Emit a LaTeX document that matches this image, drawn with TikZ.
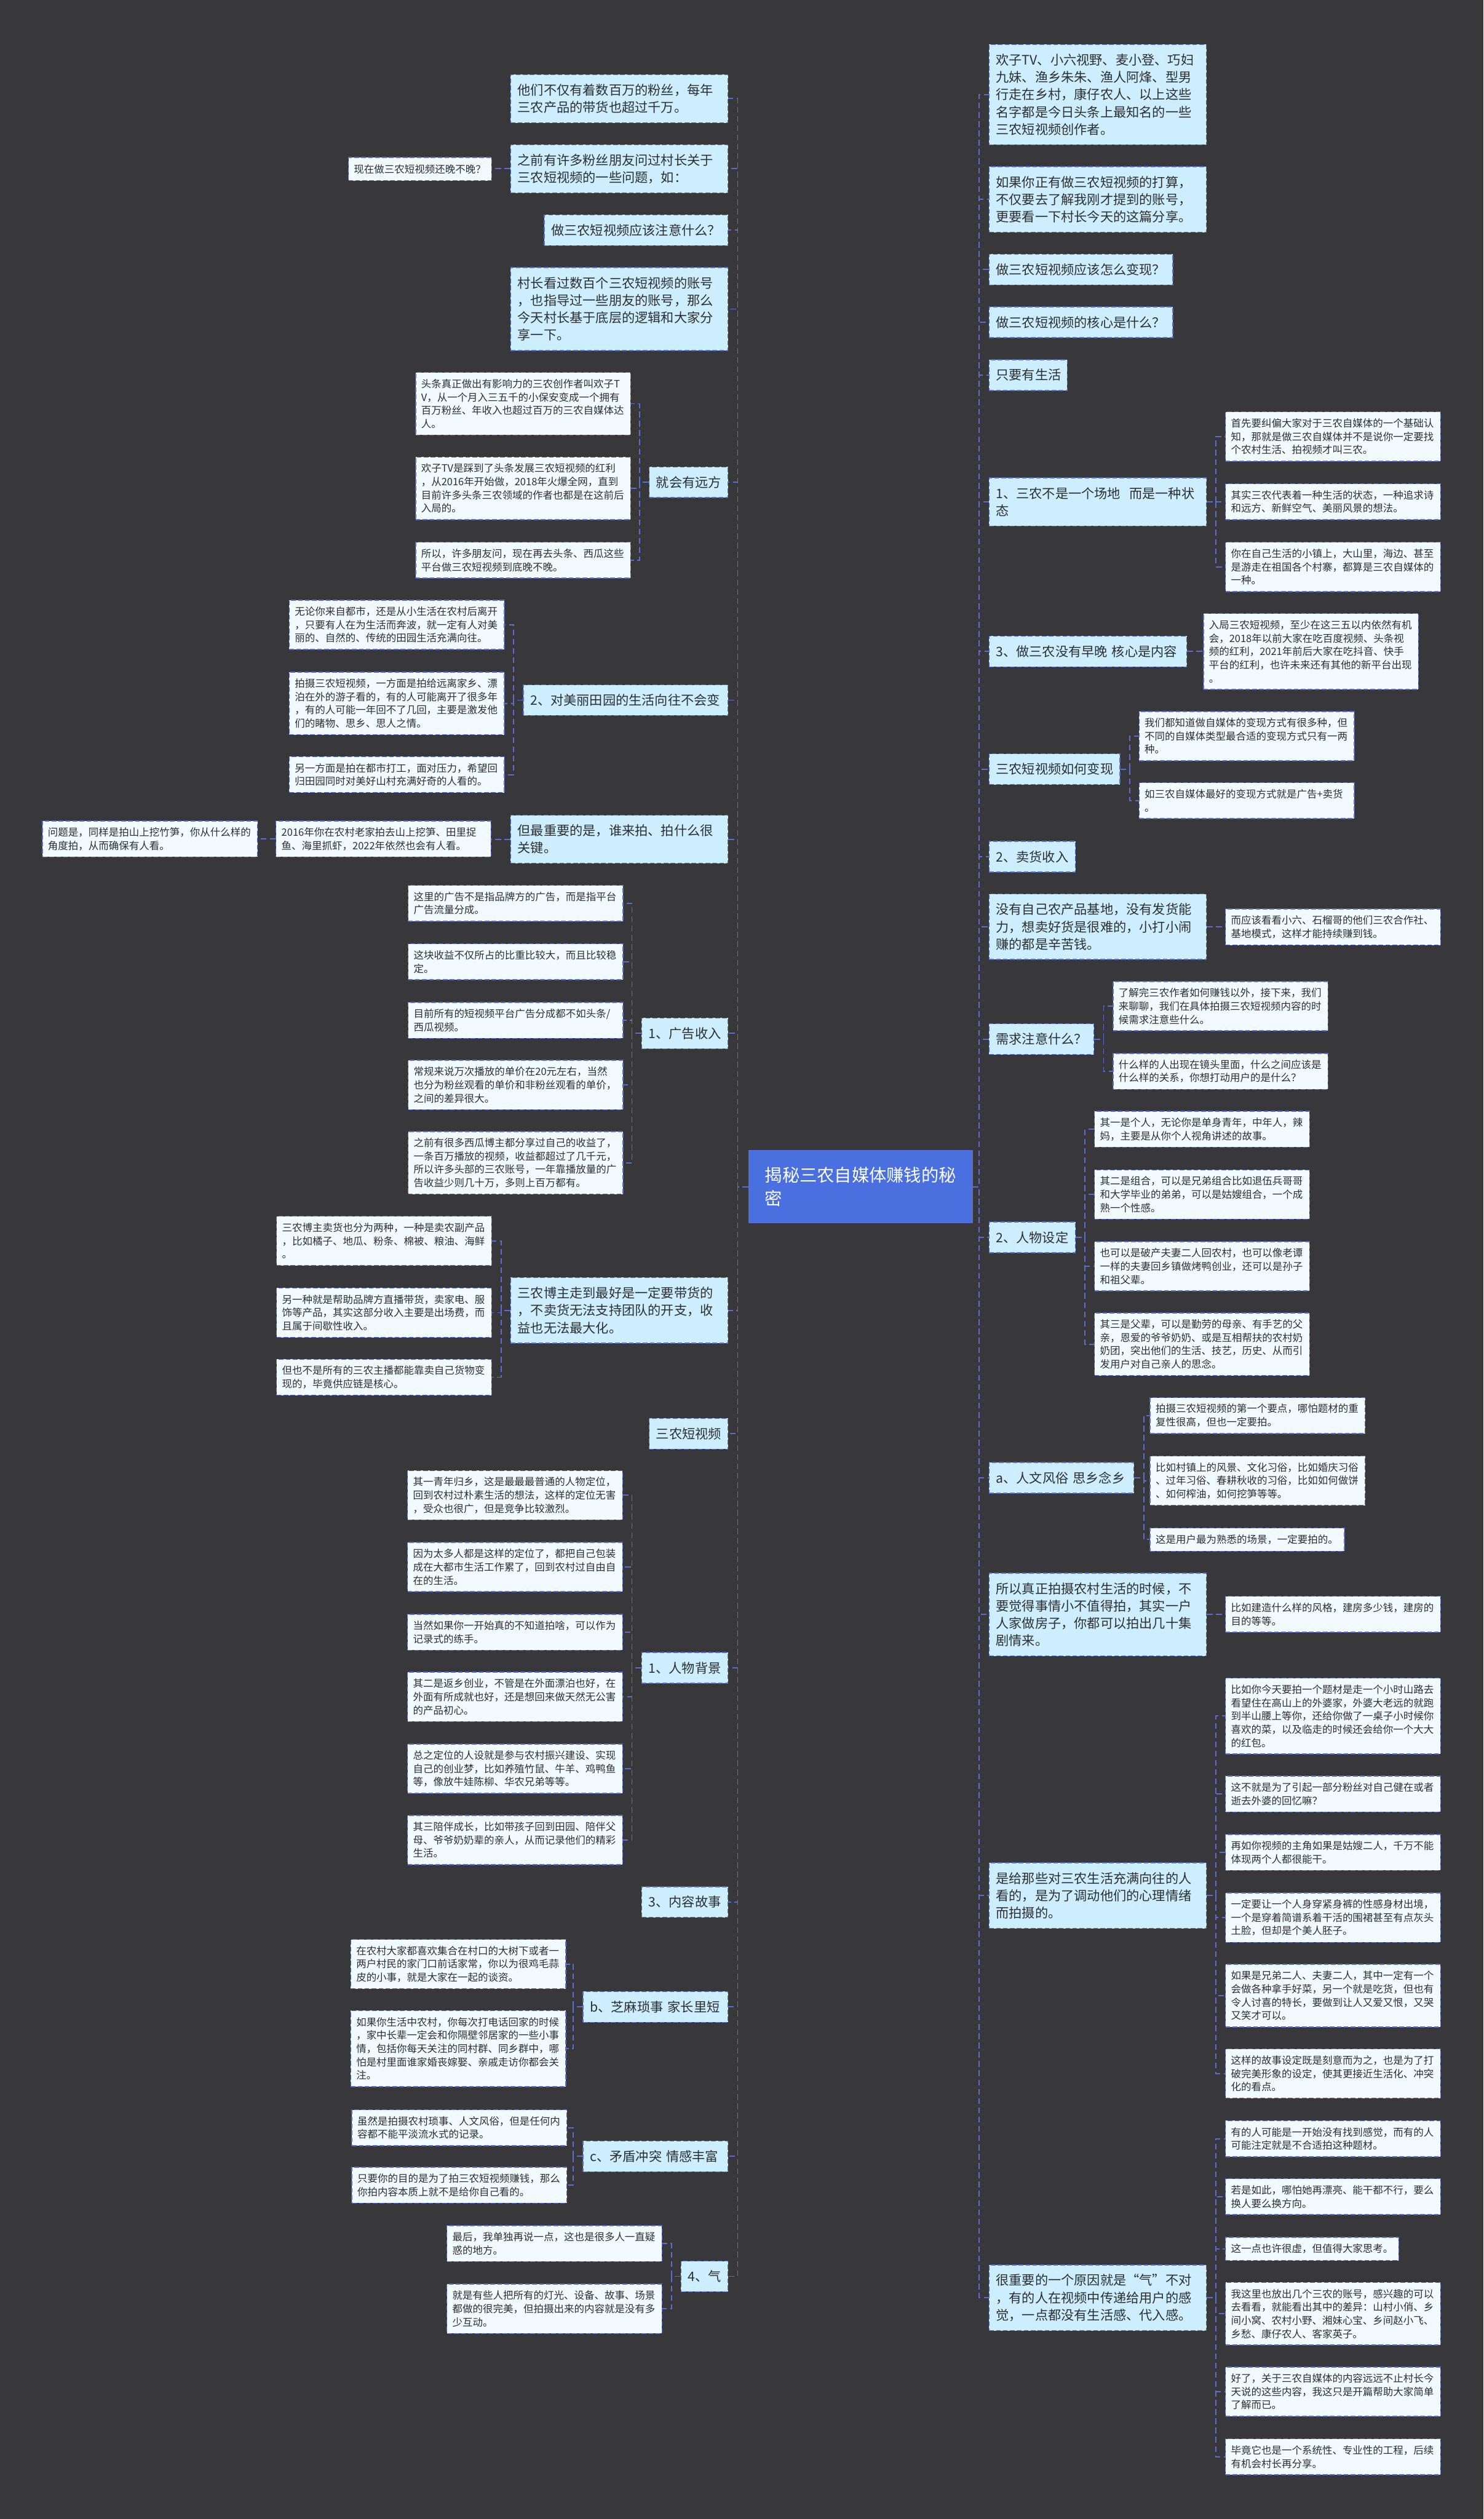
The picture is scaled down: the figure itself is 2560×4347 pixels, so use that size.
\documentclass[tikz,border=0pt]{standalone}
\usepackage{fontspec}
\newfontfamily\cjk{Noto Sans CJK SC}
\usepackage{xcolor}
\definecolor{bgdark}{HTML}{38383A}
\definecolor{linkblue}{HTML}{5A6ED2}
\definecolor{rootblue}{HTML}{4A6FDF}
\definecolor{topicfill}{HTML}{CCEEFF}
\definecolor{leaffill}{HTML}{F0FAFF}
\definecolor{textdark}{HTML}{2E2E2E}
\tikzset{
  conn/.style={draw=linkblue, line width=2pt, dash pattern=on 10pt off 6pt},
  rootbox/.style={draw=linkblue, line width=1.5pt, fill=rootblue, text=white, font=\cjk\fontsize{30}{40}\selectfont, align=left, text width=330pt, inner xsep=28pt, inner ysep=0pt, minimum height=125pt},
  topic/.style={draw=linkblue, line width=1.5pt, dash pattern=on 8pt off 4pt, fill=topicfill, text=textdark, font=\cjk\fontsize{22.5}{30}\selectfont, align=left, text width=351pt, inner xsep=12pt, inner ysep=0pt},
  leaf/.style={draw=linkblue, line width=1.5pt, dash pattern=on 8pt off 4pt, fill=leaffill, text=textdark, font=\cjk\fontsize{17.5}{23}\selectfont, align=left, text width=352pt, inner xsep=9.5pt, inner ysep=0pt}
}
\begin{document}
\begin{tikzpicture}[x=1pt,y=-1pt]
        \fill[bgdark] (0,0) rectangle (2560,4347);
        \node[rootbox] (root) at (1485,2048) {揭秘三农自媒体赚钱的秘\\密};
        \coordinate (tl) at (1273,2048);
        \coordinate (tr) at (1690,2048);

        \node[topic, anchor=north east, minimum height=83pt] (fans) at (1257,128) {他们不仅有着数百万的粉丝，每年\\三农产品的带货也超过千万。};
        \node[topic, anchor=north east, minimum height=83pt] (askvideo) at (1257,249) {之前有许多粉丝朋友问过村长关于\\三农短视频的一些问题，如：};
        \node[topic, anchor=north east, minimum height=53pt, text width=293pt] (notice) at (1257,370) {做三农短视频应该注意什么？};
        \node[topic, anchor=north east, minimum height=143pt] (logic) at (1257,461) {村长看过数百个三农短视频的账号\\，也指导过一些朋友的账号，那么\\今天村长基于底层的逻辑和大家分\\享一下。};
        \node[topic, anchor=north east, minimum height=53pt, text width=112pt] (future) at (1257,805) {就会有远方};
        \node[topic, anchor=north east, minimum height=53pt, text width=329pt] (idyll) at (1257,1181) {2、对美丽田园的生活向往不会变};
        \node[topic, anchor=north east, minimum height=83pt] (whoshoots) at (1257,1406) {但最重要的是，谁来拍、拍什么很\\关键。};
        \node[topic, anchor=north east, minimum height=53pt, text width=125pt] (adincome) at (1257,1756) {1、广告收入};
        \node[topic, anchor=north east, minimum height=113pt] (selling) at (1257,2204) {三农博主走到最好是一定要带货的\\，不卖货无法支持团队的开支，收\\益也无法最大化。};
        \node[topic, anchor=north east, minimum height=53pt, text width=112pt] (shortvid) at (1257,2447) {三农短视频};
        \node[topic, anchor=north east, minimum height=53pt, text width=125pt] (persona) at (1257,2851) {1、人物背景};
        \node[topic, anchor=north east, minimum height=53pt, text width=125pt] (story) at (1257,3255) {3、内容故事};
        \node[topic, anchor=north east, minimum height=53pt, text width=226pt] (trivia) at (1257,3436) {b、芝麻琐事~家长里短};
        \node[topic, anchor=north east, minimum height=53pt, text width=226pt] (conflict) at (1257,3694) {c、矛盾冲突~情感丰富};
        \node[topic, anchor=north east, minimum height=53pt, text width=57pt] (qi) at (1257,3901) {4、气};

        \node[leaf, anchor=north east, minimum height=40pt, text width=228pt] (latest) at (849,271) {现在做三农短视频还晚不晚？};
        \node[leaf, anchor=north east, minimum height=108pt] (future1) at (1089,642) {头条真正做出有影响力的三农创作者叫欢子T\\V，从一个月入三五千的小保安变成一个拥有\\百万粉丝、年收入也超过百万的三农自媒体达\\人。};
        \node[leaf, anchor=north east, minimum height=108pt] (future2) at (1089,788) {欢子TV是踩到了头条发展三农短视频的红利\\，从2016年开始做，2018年火爆全网，直到\\目前许多头条三农领域的作者也都是在这前后\\入局的。};
        \node[leaf, anchor=north east, minimum height=62pt] (future3) at (1089,935) {所以，许多朋友问，现在再去头条、西瓜这些\\平台做三农短视频到底晚不晚。};
        \node[leaf, anchor=north east, minimum height=85pt] (idyll1) at (871,1035) {无论你来自都市，还是从小生活在农村后离开\\，只要有人在为生活而奔波，就一定有人对美\\丽的、自然的、传统的田园生活充满向往。};
        \node[leaf, anchor=north east, minimum height=108pt] (idyll2) at (871,1159) {拍摄三农短视频，一方面是拍给远离家乡、漂\\泊在外的游子看的，有的人可能离开了很多年\\，有的人可能一年回不了几回，主要是激发他\\们的睹物、思乡、思人之情。};
        \node[leaf, anchor=north east, minimum height=62pt] (idyll3) at (871,1305) {另一方面是拍在都市打工，面对压力，希望回\\归田园同时对美好山村充满好奇的人看的。};
        \node[leaf, anchor=north east, minimum height=62pt] (who1) at (848,1416) {2016年你在农村老家拍去山上挖笋、田里捉\\鱼、海里抓虾，2022年依然也会有人看。};
        \node[leaf, anchor=north east, minimum height=62pt] (who2) at (445,1416) {问题是，同样是拍山上挖竹笋，你从什么样的\\角度拍，从而确保有人看。};
        \node[leaf, anchor=north east, minimum height=62pt] (ad1) at (1076,1527) {这里的广告不是指品牌方的广告，而是指平台\\广告流量分成。};
        \node[leaf, anchor=north east, minimum height=62pt] (ad2) at (1076,1628) {这块收益不仅所占的比重比较大，而且比较稳\\定。};
        \node[leaf, anchor=north east, minimum height=62pt] (ad3) at (1076,1729) {目前所有的短视频平台广告分成都不如头条/\\西瓜视频。};
        \node[leaf, anchor=north east, minimum height=85pt] (ad4) at (1076,1829) {常规来说万次播放的单价在20元左右，当然\\也分为粉丝观看的单价和非粉丝观看的单价，\\之间的差异很大。};
        \node[leaf, anchor=north east, minimum height=108pt] (ad5) at (1076,1952) {之前有很多西瓜博主都分享过自己的收益了，\\一条百万播放的视频，收益都超过了几千元，\\所以许多头部的三农账号，一年靠播放量的广\\告收益少则几十万，多则上百万都有。};
        \node[leaf, anchor=north east, minimum height=85pt] (sell1) at (849,2098) {三农博主卖货也分为两种，一种是卖农副产品\\，比如橘子、地瓜、粉条、棉被、粮油、海鲜\\。};
        \node[leaf, anchor=north east, minimum height=85pt] (sell2) at (849,2222) {另一种就是帮助品牌方直播带货，卖家电、服\\饰等产品，其实这部分收入主要是出场费，而\\且属于间歇性收入。};
        \node[leaf, anchor=north east, minimum height=62pt] (sell3) at (849,2345) {但也不是所有的三农主播都能靠卖自己货物变\\现的，毕竟供应链是核心。};
        \node[leaf, anchor=north east, minimum height=85pt] (pers1) at (1075,2537) {其一青年归乡，这是最最最普通的人物定位，\\回到农村过朴素生活的想法，这样的定位无害\\，受众也很广，但是竞争比较激烈。};
        \node[leaf, anchor=north east, minimum height=85pt] (pers2) at (1075,2661) {因为太多人都是这样的定位了，都把自己包装\\成在大都市生活工作累了，回到农村过自由自\\在的生活。};
        \node[leaf, anchor=north east, minimum height=62pt] (pers3) at (1075,2785) {当然如果你一开始真的不知道拍啥，可以作为\\记录式的练手。};
        \node[leaf, anchor=north east, minimum height=85pt] (pers4) at (1075,2885) {其二是返乡创业，不管是在外面漂泊也好，在\\外面有所成就也好，还是想回来做天然无公害\\的产品初心。};
        \node[leaf, anchor=north east, minimum height=85pt] (pers5) at (1075,3009) {总之定位的人设就是参与农村振兴建设、实现\\自己的创业梦，比如养殖竹鼠、牛羊、鸡鸭鱼\\等，像放牛娃陈柳、华农兄弟等等。};
        \node[leaf, anchor=north east, minimum height=85pt] (pers6) at (1075,3132) {其三陪伴成长，比如带孩子回到田园、陪伴父\\母、爷爷奶奶辈的亲人，从而记录他们的精彩\\生活。};
        \node[leaf, anchor=north east, minimum height=85pt] (triv1) at (977,3346) {在农村大家都喜欢集合在村口的大树下或者一\\两户村民的家门口前话家常，你以为很鸡毛蒜\\皮的小事，就是大家在一起的谈资。};
        \node[leaf, anchor=north east, minimum height=131pt] (triv2) at (977,3469) {如果你生活中农村，你每次打电话回家的时候\\，家中长辈一定会和你隔壁邻居家的一些小事\\情，包括你每天关注的同村群、同乡群中，哪\\怕是村里面谁家婚丧嫁娶、亲戚走访你都会关\\注。};
        \node[leaf, anchor=north east, minimum height=62pt] (conf1) at (979,3640) {虽然是拍摄农村琐事、人文风俗，但是任何内\\容都不能平淡流水式的记录。};
        \node[leaf, anchor=north east, minimum height=62pt] (conf2) at (979,3739) {只要你的目的是为了拍三农短视频赚钱，那么\\你拍内容本质上就不是给你自己看的。};
        \node[leaf, anchor=north east, minimum height=62pt] (qi1) at (1143,3840) {最后，我单独再说一点，这也是很多人一直疑\\惑的地方。};
        \node[leaf, anchor=north east, minimum height=85pt] (qi2) at (1143,3941) {就是有些人把所有的灯光、设备、故事、场景\\都做的很完美，但拍摄出来的内容就是没有多\\少互动。};

        \node[topic, anchor=north west, minimum height=173pt] (creators) at (1706,76) {欢子TV、小六视野、麦小登、巧妇\\九妹、渔乡朱朱、渔人阿烽、型男\\行走在乡村，康仔农人、以上这些\\名字都是今日头条上最知名的一些\\三农短视频创作者。};
        \node[topic, anchor=north west, minimum height=113pt] (plan) at (1706,287) {如果你正有做三农短视频的打算，\\不仅要去了解我刚才提到的账号，\\更要看一下村长今天的这篇分享。};
        \node[topic, anchor=north west, minimum height=53pt, text width=293pt] (monetize) at (1706,438) {做三农短视频应该怎么变现？};
        \node[topic, anchor=north west, minimum height=53pt, text width=293pt] (core) at (1706,529) {做三农短视频的核心是什么？};
        \node[topic, anchor=north west, minimum height=53pt, text width=111pt] (life) at (1706,620) {只要有生活};
        \node[topic, anchor=north west, minimum height=83pt] (statel) at (1706,824) {1、三农不是一个场地~~而是一种状\\态};
        \node[topic, anchor=north west, minimum height=53pt, text width=317pt] (content) at (1706,1097) {3、做三农没有早晚~核心是内容};
        \node[topic, anchor=north west, minimum height=53pt, text width=202pt] (howmoney) at (1706,1300) {三农短视频如何变现};
        \node[topic, anchor=north west, minimum height=53pt, text width=125pt] (salesinc) at (1706,1451) {2、卖货收入};
        \node[topic, anchor=north west, minimum height=113pt] (nobase) at (1706,1542) {没有自己农产品基地，没有发货能\\力，想卖好货是很难的，小打小闹\\赚的都是辛苦钱。};
        \node[topic, anchor=north west, minimum height=53pt, text width=157pt] (needcare) at (1706,1766) {需求注意什么？};
        \node[topic, anchor=north west, minimum height=53pt, text width=125pt] (roles) at (1706,2108) {2、人物设定};
        \node[topic, anchor=north west, minimum height=53pt, text width=226pt] (customs) at (1706,2523) {a、人文风俗~思乡念乡};
        \node[topic, anchor=north west, minimum height=143pt] (house) at (1706,2714) {所以真正拍摄农村生活的时候，不\\要觉得事情小不值得拍，其实一户\\人家做房子，你都可以拍出几十集\\剧情来。};
        \node[topic, anchor=north west, minimum height=113pt] (emotion) at (1706,3214) {是给那些对三农生活充满向往的人\\看的，是为了调动他们的心理情绪\\而拍摄的。};
        \node[topic, anchor=north west, minimum height=113pt] (qiwrong) at (1706,3908) {很重要的一个原因就是“气”不对\\，有的人在视频中传递给用户的感\\觉，一点都没有生活感、代入感。};

        \node[leaf, anchor=north west, minimum height=85pt] (st1) at (2114,710) {首先要纠偏大家对于三农自媒体的一个基础认\\知，那就是做三农自媒体并不是说你一定要找\\个农村生活、拍视频才叫三农。};
        \node[leaf, anchor=north west, minimum height=62pt] (st2) at (2114,834) {其实三农代表着一种生活的状态，一种追求诗\\和远方、新鲜空气、美丽风景的想法。};
        \node[leaf, anchor=north west, minimum height=85pt] (st3) at (2114,935) {你在自己生活的小镇上，大山里，海边、甚至\\是游走在祖国各个村寨，都算是三农自媒体的\\一种。};
        \node[leaf, anchor=north west, minimum height=131pt] (cont1) at (2076,1058) {入局三农短视频，至少在这三五以内依然有机\\会，2018年以前大家在吃百度视频、头条视\\频的红利，2021年前后大家在吃抖音、快手\\平台的红利，也许未来还有其他的新平台出现\\。};
        \node[leaf, anchor=north west, minimum height=85pt] (hm1) at (1965,1227) {我们都知道做自媒体的变现方式有很多种，但\\不同的自媒体类型最合适的变现方式只有一两\\种。};
        \node[leaf, anchor=north west, minimum height=62pt] (hm2) at (1965,1350) {如三农自媒体最好的变现方式就是广告+卖货\\。};
        \node[leaf, anchor=north west, minimum height=62pt] (nb1) at (2114,1568) {而应该看看小六、石榴哥的他们三农合作社、\\基地模式，这样才能持续赚到钱。};
        \node[leaf, anchor=north west, minimum height=85pt] (nc1) at (1920,1693) {了解完三农作者如何赚钱以外，接下来，我们\\来聊聊，我们在具体拍摄三农短视频内容的时\\候需求注意些什么。};
        \node[leaf, anchor=north west, minimum height=62pt] (nc2) at (1920,1817) {什么样的人出现在镜头里面，什么之间应该是\\什么样的关系，你想打动用户的是什么？};
        \node[leaf, anchor=north west, minimum height=62pt] (ro1) at (1888,1917) {其一是个人，无论你是单身青年，中年人，辣\\妈，主要是从你个人视角讲述的故事。};
        \node[leaf, anchor=north west, minimum height=85pt] (ro2) at (1888,2018) {其二是组合，可以是兄弟组合比如退伍兵哥哥\\和大学毕业的弟弟，可以是姑嫂组合，一个成\\熟一个性感。};
        \node[leaf, anchor=north west, minimum height=85pt] (ro3) at (1888,2142) {也可以是破产夫妻二人回农村，也可以像老谭\\一样的夫妻回乡镇做烤鸭创业，还可以是孙子\\和祖父辈。};
        \node[leaf, anchor=north west, minimum height=108pt] (ro4) at (1888,2265) {其三是父辈，可以是勤劳的母亲、有手艺的父\\亲，恩爱的爷爷奶奶、或是互相帮扶的农村奶\\奶团，突出他们的生活、技艺，历史、从而引\\发用户对自己亲人的思念。};
        \node[leaf, anchor=north west, minimum height=62pt] (cu1) at (1984,2411) {拍摄三农短视频的第一个要点，哪怕题材的重\\复性很高，但也一定要拍。};
        \node[leaf, anchor=north west, minimum height=85pt] (cu2) at (1984,2512) {比如村镇上的风景、文化习俗，比如婚庆习俗\\、过年习俗、春耕秋收的习俗，比如如何做饼\\、如何榨油，如何挖笋等等。};
        \node[leaf, anchor=north west, minimum height=40pt, text width=316pt] (cu3) at (1984,2636) {这是用户最为熟悉的场景，一定要拍的。};
        \node[leaf, anchor=north west, minimum height=62pt] (ho1) at (2114,2754) {比如建造什么样的风格，建房多少钱，建房的\\目的等等。};
        \node[leaf, anchor=north west, minimum height=131pt] (em1) at (2114,2895) {比如你今天要拍一个题材是走一个小时山路去\\看望住在高山上的外婆家，外婆大老远的就跑\\到半山腰上等你，还给你做了一桌子小时候你\\喜欢的菜，以及临走的时候还会给你一个大大\\的红包。};
        \node[leaf, anchor=north west, minimum height=62pt] (em2) at (2114,3064) {这不就是为了引起一部分粉丝对自己健在或者\\逝去外婆的回忆嘛？};
        \node[leaf, anchor=north west, minimum height=62pt] (em3) at (2114,3165) {再如你视频的主角如果是姑嫂二人，千万不能\\体现两个人都很能干。};
        \node[leaf, anchor=north west, minimum height=85pt] (em4) at (2114,3266) {一定要让一个人身穿紧身裤的性感身材出境，\\一个是穿着简谱系着干活的围裙甚至有点灰头\\土脸，但却是个美人胚子。};
        \node[leaf, anchor=north west, minimum height=108pt] (em5) at (2114,3389) {如果是兄弟二人、夫妻二人，其中一定有一个\\会做各种拿手好菜，另一个就是吃货，但也有\\令人讨喜的特长，要做到让人又爱又恨，又哭\\又笑才可以。};
        \node[leaf, anchor=north west, minimum height=85pt] (em6) at (2114,3535) {这样的故事设定既是刻意而为之，也是为了打\\破完美形象的设定，使其更接近生活化、冲突\\化的看点。};
        \node[leaf, anchor=north west, minimum height=62pt] (qw1) at (2114,3659) {有的人可能是一开始没有找到感觉，而有的人\\可能注定就是不合适拍这种题材。};
        \node[leaf, anchor=north west, minimum height=62pt] (qw2) at (2114,3759) {若是如此，哪怕她再漂亮、能干都不行，要么\\换人要么换方向。};
        \node[leaf, anchor=north west, minimum height=40pt, text width=280pt] (qw3) at (2114,3860) {这一点也许很虚，但值得大家思考。};
        \node[leaf, anchor=north west, minimum height=108pt] (qw4) at (2114,3938) {我这里也放出几个三农的账号，感兴趣的可以\\去看看，就能看出其中的差异：山村小俏、乡\\间小窝、农村小野、湘妹心宝、乡间赵小飞、\\乡愁、康仔农人、客家英子。};
        \node[leaf, anchor=north west, minimum height=85pt] (qw5) at (2114,4084) {好了，关于三农自媒体的内容远远不止村长今\\天说的这些内容，我这只是开篇帮助大家简单\\了解而已。};
        \node[leaf, anchor=north west, minimum height=62pt] (qw6) at (2114,4208) {毕竟它也是一个系统性、专业性的工程，后续\\有机会村长再分享。};

        \draw[conn] (root.west) -- (tl) |- (fans.east);
        \draw[conn] (root.west) -- (tl) |- (askvideo.east);
        \draw[conn] (root.west) -- (tl) |- (notice.east);
        \draw[conn] (root.west) -- (tl) |- (logic.east);
        \draw[conn] (root.west) -- (tl) |- (future.east);
        \draw[conn] (root.west) -- (tl) |- (idyll.east);
        \draw[conn] (root.west) -- (tl) |- (whoshoots.east);
        \draw[conn] (root.west) -- (tl) |- (adincome.east);
        \draw[conn] (root.west) -- (tl) |- (selling.east);
        \draw[conn] (root.west) -- (tl) |- (shortvid.east);
        \draw[conn] (root.west) -- (tl) |- (persona.east);
        \draw[conn] (root.west) -- (tl) |- (story.east);
        \draw[conn] (root.west) -- (tl) |- (trivia.east);
        \draw[conn] (root.west) -- (tl) |- (conflict.east);
        \draw[conn] (root.west) -- (tl) |- (qi.east);

        \draw[conn] (root.east) -- (tr) |- (creators.west);
        \draw[conn] (root.east) -- (tr) |- (plan.west);
        \draw[conn] (root.east) -- (tr) |- (monetize.west);
        \draw[conn] (root.east) -- (tr) |- (core.west);
        \draw[conn] (root.east) -- (tr) |- (life.west);
        \draw[conn] (root.east) -- (tr) |- (statel.west);
        \draw[conn] (root.east) -- (tr) |- (content.west);
        \draw[conn] (root.east) -- (tr) |- (howmoney.west);
        \draw[conn] (root.east) -- (tr) |- (salesinc.west);
        \draw[conn] (root.east) -- (tr) |- (nobase.west);
        \draw[conn] (root.east) -- (tr) |- (needcare.west);
        \draw[conn] (root.east) -- (tr) |- (roles.west);
        \draw[conn] (root.east) -- (tr) |- (customs.west);
        \draw[conn] (root.east) -- (tr) |- (house.west);
        \draw[conn] (root.east) -- (tr) |- (emotion.west);
        \draw[conn] (root.east) -- (tr) |- (qiwrong.west);

        \draw[conn] (askvideo.west) -- (askvideo.west -| latest.east);
        \draw[conn] (future.west) -- ++(-16,0) |- (future1.east);
        \draw[conn] (future.west) -- ++(-16,0) |- (future2.east);
        \draw[conn] (future.west) -- ++(-16,0) |- (future3.east);
        \draw[conn] (idyll.west) -- ++(-16,0) |- (idyll1.east);
        \draw[conn] (idyll.west) -- ++(-16,0) |- (idyll2.east);
        \draw[conn] (idyll.west) -- ++(-16,0) |- (idyll3.east);
        \draw[conn] (whoshoots.west) -- (whoshoots.west -| who1.east);
        \draw[conn] (who1.west) -- (who1.west -| who2.east);
        \draw[conn] (adincome.west) -- ++(-16,0) |- (ad1.east);
        \draw[conn] (adincome.west) -- ++(-16,0) |- (ad2.east);
        \draw[conn] (adincome.west) -- ++(-16,0) |- (ad3.east);
        \draw[conn] (adincome.west) -- ++(-16,0) |- (ad4.east);
        \draw[conn] (adincome.west) -- ++(-16,0) |- (ad5.east);
        \draw[conn] (selling.west) -- ++(-16,0) |- (sell1.east);
        \draw[conn] (selling.west) -- ++(-16,0) |- (sell2.east);
        \draw[conn] (selling.west) -- ++(-16,0) |- (sell3.east);
        \draw[conn] (persona.west) -- ++(-16,0) |- (pers1.east);
        \draw[conn] (persona.west) -- ++(-16,0) |- (pers2.east);
        \draw[conn] (persona.west) -- ++(-16,0) |- (pers3.east);
        \draw[conn] (persona.west) -- ++(-16,0) |- (pers4.east);
        \draw[conn] (persona.west) -- ++(-16,0) |- (pers5.east);
        \draw[conn] (persona.west) -- ++(-16,0) |- (pers6.east);
        \draw[conn] (trivia.west) -- ++(-16,0) |- (triv1.east);
        \draw[conn] (trivia.west) -- ++(-16,0) |- (triv2.east);
        \draw[conn] (conflict.west) -- ++(-16,0) |- (conf1.east);
        \draw[conn] (conflict.west) -- ++(-16,0) |- (conf2.east);
        \draw[conn] (qi.west) -- ++(-16,0) |- (qi1.east);
        \draw[conn] (qi.west) -- ++(-16,0) |- (qi2.east);

        \draw[conn] (statel.east) -- ++(16,0) |- (st1.west);
        \draw[conn] (statel.east) -- ++(16,0) |- (st2.west);
        \draw[conn] (statel.east) -- ++(16,0) |- (st3.west);
        \draw[conn] (content.east) -- (content.east -| cont1.west);
        \draw[conn] (howmoney.east) -- ++(16,0) |- (hm1.west);
        \draw[conn] (howmoney.east) -- ++(16,0) |- (hm2.west);
        \draw[conn] (nobase.east) -- (nobase.east -| nb1.west);
        \draw[conn] (needcare.east) -- ++(16,0) |- (nc1.west);
        \draw[conn] (needcare.east) -- ++(16,0) |- (nc2.west);
        \draw[conn] (roles.east) -- ++(16,0) |- (ro1.west);
        \draw[conn] (roles.east) -- ++(16,0) |- (ro2.west);
        \draw[conn] (roles.east) -- ++(16,0) |- (ro3.west);
        \draw[conn] (roles.east) -- ++(16,0) |- (ro4.west);
        \draw[conn] (customs.east) -- ++(16,0) |- (cu1.west);
        \draw[conn] (customs.east) -- ++(16,0) |- (cu2.west);
        \draw[conn] (customs.east) -- ++(16,0) |- (cu3.west);
        \draw[conn] (house.east) -- (house.east -| ho1.west);
        \draw[conn] (emotion.east) -- ++(16,0) |- (em1.west);
        \draw[conn] (emotion.east) -- ++(16,0) |- (em2.west);
        \draw[conn] (emotion.east) -- ++(16,0) |- (em3.west);
        \draw[conn] (emotion.east) -- ++(16,0) |- (em4.west);
        \draw[conn] (emotion.east) -- ++(16,0) |- (em5.west);
        \draw[conn] (emotion.east) -- ++(16,0) |- (em6.west);
        \draw[conn] (qiwrong.east) -- ++(16,0) |- (qw1.west);
        \draw[conn] (qiwrong.east) -- ++(16,0) |- (qw2.west);
        \draw[conn] (qiwrong.east) -- ++(16,0) |- (qw3.west);
        \draw[conn] (qiwrong.east) -- ++(16,0) |- (qw4.west);
        \draw[conn] (qiwrong.east) -- ++(16,0) |- (qw5.west);
        \draw[conn] (qiwrong.east) -- ++(16,0) |- (qw6.west);
\end{tikzpicture}
\end{document}
